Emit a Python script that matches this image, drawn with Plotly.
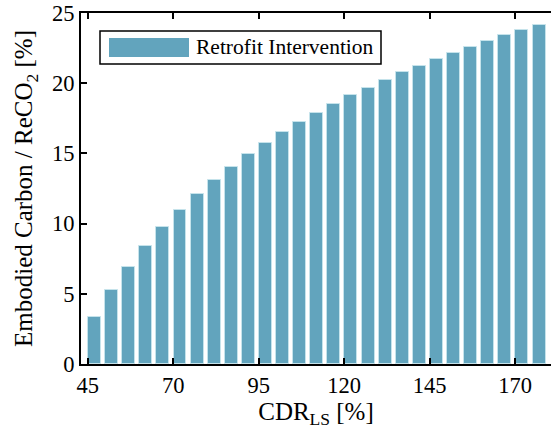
import plotly.graph_objects as go

cdr_ls = [47, 52, 57, 62, 67, 72, 77, 82, 87, 92, 97, 102, 107, 112, 117, 122, 127,
          132, 137, 142, 147, 152, 157, 162, 167, 172, 177]
embodied_ratio = [3.37, 5.27, 6.91, 8.40, 9.76, 10.97, 12.09, 13.1, 14.05, 14.94, 15.74,
                  16.52, 17.24, 17.9, 18.54, 19.14, 19.68, 20.23, 20.77, 21.25, 21.72,
                  22.15, 22.6, 23.0, 23.41, 23.77, 24.15]
x_ticks = [45, 70, 95, 120, 145, 170]
y_ticks = [0, 5, 10, 15, 20, 25]
series_name = "Retrofit Intervention"

bar_color = "#62a4bd"
font_family = "Liberation Serif"

fig = go.Figure()
fig.add_trace(go.Bar(
    x=cdr_ls, y=embodied_ratio, width=3.8, name=series_name,
    marker=dict(color=bar_color, line=dict(color="rgba(200,228,236,0.9)", width=1)),
    showlegend=False,
))

# custom legend (box, wide patch, label)
fig.add_shape(type="rect", xref="paper", yref="paper",
              x0=(100 - 81) / 470, x1=(381 - 81) / 470,
              y0=(364 - 64) / 351, y1=(364 - 31) / 351,
              line=dict(color="black", width=1.5), fillcolor="white", layer="above")
fig.add_shape(type="rect", xref="paper", yref="paper",
              x0=(109 - 81) / 470, x1=(189 - 81) / 470,
              y0=(364 - 57) / 351, y1=(364 - 38) / 351,
              line=dict(width=0), fillcolor=bar_color, layer="above")
fig.add_annotation(xref="paper", yref="paper", x=(194 - 81) / 470, y=(364 - 47.5) / 351,
                   text=series_name, showarrow=False, xanchor="left", yanchor="middle",
                   font=dict(family=font_family, size=21.5, color="black"))

fig.update_layout(
    width=551, height=438,
    margin=dict(l=81, r=0, t=13, b=74),
    paper_bgcolor="white", plot_bgcolor="white",
    font=dict(family=font_family, size=21, color="black"),
    bargap=0,
)
fig.update_xaxes(
    range=[43.05, 180.5], tickvals=x_ticks, ticks="inside", ticklen=6, tickwidth=2,
    tickcolor="black", showline=True, linecolor="black", linewidth=2, mirror="ticks",
    showgrid=False, zeroline=False,
    title=dict(text="CDR<sub>LS</sub> [%]", standoff=5),
    tickfont=dict(size=22.5),
)
fig.update_yaxes(
    range=[0, 25], tickvals=y_ticks, ticks="inside", ticklen=6, tickwidth=2,
    tickcolor="black", showline=True, linecolor="black", linewidth=2,
    showgrid=False, zeroline=False,
    title=dict(text="Embodied Carbon / ReCO<sub>2</sub> [%]", standoff=12),
    tickfont=dict(size=22.5),
)

fig.write_html("out.html")
